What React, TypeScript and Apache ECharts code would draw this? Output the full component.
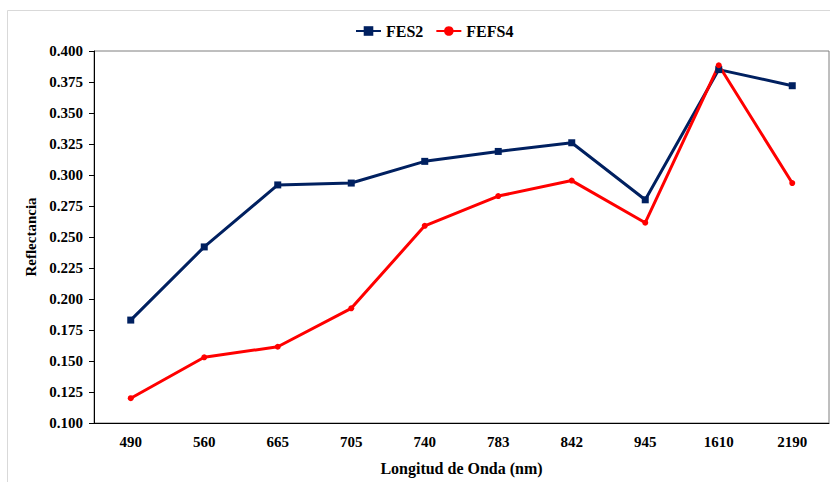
import React, { useEffect, useRef } from "react";
import * as echarts from "echarts";

const categories = ["490", "560", "665", "705", "740", "783", "842", "945", "1610", "2190"];
const fes2 = [0.183, 0.242, 0.292, 0.2935, 0.311, 0.319, 0.326, 0.28, 0.385, 0.372];
const fefs4 = [0.12, 0.153, 0.1615, 0.1925, 0.259, 0.283, 0.2955, 0.2615, 0.3885, 0.2935];
const seriesNames = ["FES2", "FEFS4"];
const xTitle = "Longitud de Onda (nm)";
const yTitle = "Reflectancia";

const FONT = "Liberation Serif";

export default function App() {
  const ref = useRef<HTMLDivElement>(null);
  useEffect(() => {
    if (!ref.current) return;
    const chart = echarts.init(ref.current, null, { renderer: "svg" });
    chart.setOption({
      animation: false,
      backgroundColor: "#ffffff",
      textStyle: { fontFamily: FONT },
      graphic: [
        {
          type: "rect",
          shape: { x: 7.5, y: 10.5, width: 840, height: 490 },
          style: { fill: "none", stroke: "#d9d9d9", lineWidth: 1 },
          silent: true,
        },
      ],
      legend: {
        left: 350,
        top: 18,
        itemWidth: 25,
        itemHeight: 12,
        itemGap: 12,
        textStyle: { fontFamily: FONT, fontWeight: "bold", fontSize: 16, color: "#000" },
        data: seriesNames,
      },
      grid: {
        left: 94,
        top: 51,
        right: 1,
        bottom: 59,
        show: true,
        borderColor: "#7f7f7f",
        borderWidth: 1,
      },
      xAxis: {
        type: "category",
        data: categories,
        boundaryGap: true,
        name: xTitle,
        nameLocation: "middle",
        nameGap: 37,
        nameTextStyle: { fontFamily: FONT, fontWeight: "bold", fontSize: 16, color: "#000" },
        axisLine: { lineStyle: { color: "#000", width: 1 } },
        axisTick: { alignWithLabel: true, length: 5, lineStyle: { color: "#000" } },
        axisLabel: { fontFamily: FONT, fontWeight: "bold", fontSize: 15, color: "#000", margin: 11 },
        splitLine: { show: false },
      },
      yAxis: {
        type: "value",
        min: 0.1,
        max: 0.4,
        interval: 0.025,
        name: yTitle,
        nameLocation: "middle",
        nameGap: 56,
        nameTextStyle: { fontFamily: FONT, fontWeight: "bold", fontSize: 15, color: "#000" },
        axisLine: { show: true, lineStyle: { color: "#000", width: 1 } },
        axisTick: { show: true, length: 5, lineStyle: { color: "#000" } },
        axisLabel: {
          fontFamily: FONT,
          fontWeight: "bold",
          fontSize: 15,
          color: "#000",
          margin: 11,
          formatter: (v: number) => v.toFixed(3),
        },
        splitLine: { show: false },
      },
      series: [
        {
          name: seriesNames[0],
          type: "line",
          data: fes2,
          symbol: "rect",
          symbolSize: 7,
          itemStyle: { color: "#002060" },
          lineStyle: { color: "#002060", width: 3 },
        },
        {
          name: seriesNames[1],
          type: "line",
          data: fefs4,
          symbol: "circle",
          symbolSize: 6,
          itemStyle: { color: "#ff0000" },
          lineStyle: { color: "#ff0000", width: 3 },
        },
      ],
    });
    return () => chart.dispose();
  }, []);
  return (
    <div
      ref={ref}
      style={{ position: "absolute", left: 0, top: 0, width: 830, height: 482 }}
    />
  );
}
